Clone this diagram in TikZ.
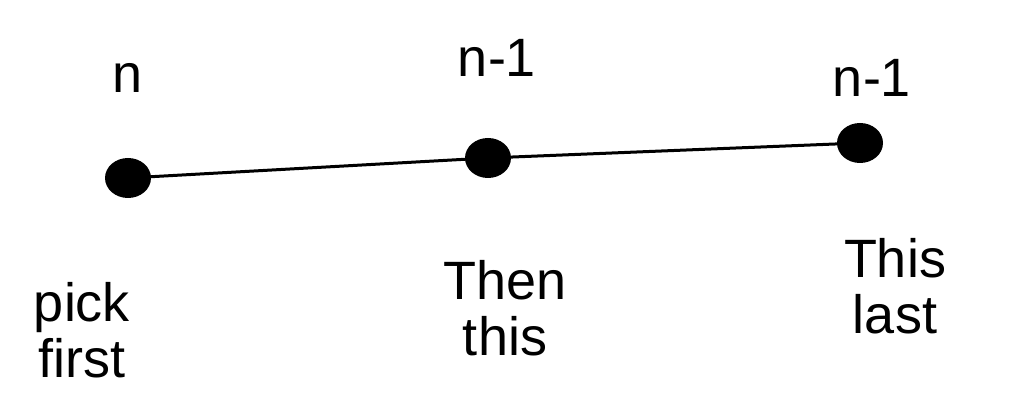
\documentclass[tikz,border=0pt]{standalone}
\usepackage{fontspec}
\usetikzlibrary{shapes.geometric}
\setmainfont{Liberation Sans}
\begin{document}
\begin{tikzpicture}[x=1pt,y=-1pt,
  dot/.style={ellipse,fill=black,inner sep=0pt,minimum width=46pt,minimum height=40pt},
  lbl/.style={font=\fontsize{54}{56}\selectfont,align=center,inner sep=0pt},
  conn/.style={line width=3pt}]
\useasboundingbox (0,0) rectangle (1012,411);
\node[dot] (a) at (128,178) {};
\node[dot] (b) at (488,158) {};
\node[dot] (c) at (860,143) {};
\draw[conn] (a.center) -- (b.center) -- (c.center);
\node[lbl] (ta) at (128,78) {n};
\node[lbl] (tb) at (497,58) {n-1};
\node[lbl] (tc) at (872,78) {n-1};
\node[lbl] (ba) at (82,330) {pick\\first};
\node[lbl] (bb) at (505,308) {Then\\this};
\node[lbl] (bc) at (895,286) {This\\last};
\end{tikzpicture}
\end{document}
